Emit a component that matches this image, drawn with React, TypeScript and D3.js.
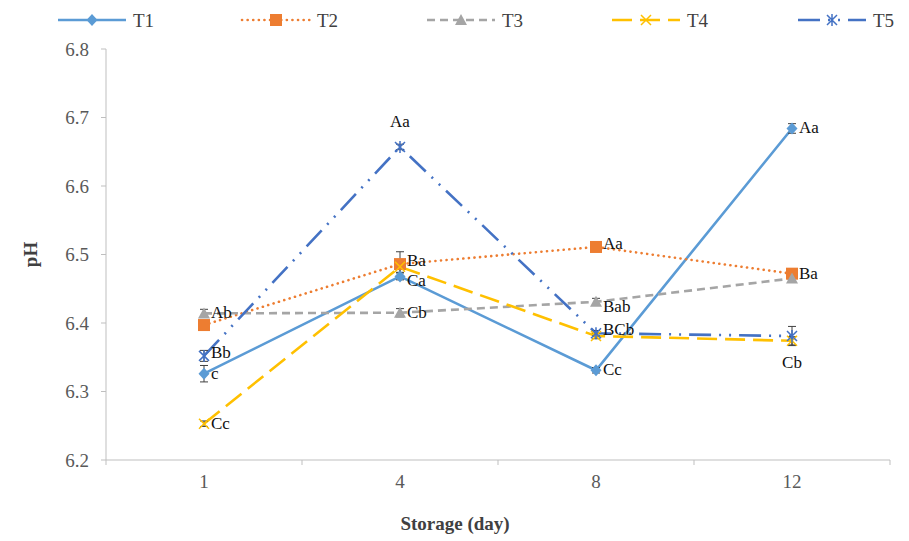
import * as d3 from 'd3';

const days = ['1', '4', '8', '12'];
const seriesNames = ['T1', 'T2', 'T3', 'T4', 'T5'];
const t1 = [6.326, 6.468, 6.331, 6.684];
const t2 = [6.397, 6.486, 6.511, 6.472];
const t3 = [6.414, 6.415, 6.431, 6.465];
const t4 = [6.253, 6.482, 6.381, 6.374];
const t5 = [6.352, 6.657, 6.385, 6.381];
const t1Err = [0.012, 0.005, 0.004, 0.007];
const t2Err = [0.006, 0.018, 0.004, 0.005];
const t3Err = [0.006, 0.006, 0.005, 0.004];
const t4Err = [0.004, 0.008, 0.004, 0.006];
const t5Err = [0.008, 0.004, 0.004, 0.014];
const yTicks = [6.2, 6.3, 6.4, 6.5, 6.6, 6.7, 6.8];

// letters shown next to each point: series index, day index, text, side
const pointLabels = [
  { s: 2, d: 0, text: 'Ab', side: 'right' },
  { s: 4, d: 0, text: 'Bb', side: 'rightHigh' },
  { s: 0, d: 0, text: 'c', side: 'right' },
  { s: 3, d: 0, text: 'Cc', side: 'right' },
  { s: 4, d: 1, text: 'Aa', side: 'above' },
  { s: 1, d: 1, text: 'Ba', side: 'rightHigh' },
  { s: 0, d: 1, text: 'Ca', side: 'rightLow' },
  { s: 2, d: 1, text: 'Cb', side: 'right' },
  { s: 1, d: 2, text: 'Aa', side: 'rightHigh' },
  { s: 2, d: 2, text: 'Bab', side: 'rightLow' },
  { s: 4, d: 2, text: 'BCb', side: 'rightHigh' },
  { s: 0, d: 2, text: 'Cc', side: 'right' },
  { s: 0, d: 3, text: 'Aa', side: 'right' },
  { s: 1, d: 3, text: 'Ba', side: 'right' },
  { s: 3, d: 3, text: 'Cb', side: 'below' },
];

const values = [t1, t2, t3, t4, t5];
const errors = [t1Err, t2Err, t3Err, t4Err, t5Err];
const colors = ['#5B9BD5', '#ED7D31', '#A5A5A5', '#FFC000', '#4472C4'];
const dashes = ['none', '0.1 5.5', '8 5', '20 8', '22 8 2 8 2 8'];
const shapes = ['diamond', 'square', 'triangle', 'x', 'star'];

const W = 909,
  H = 541;
const margin = { top: 49, right: 19, bottom: 81, left: 106 };
const font = "'Liberation Serif', 'DejaVu Serif', serif";

function Marker({ shape, color, cx, cy }: { shape: string; color: string; cx: number; cy: number }) {
  if (shape === 'diamond')
    return <path d={`M${cx},${cy - 6}L${cx + 5.5},${cy}L${cx},${cy + 6}L${cx - 5.5},${cy}Z`} fill={color} />;
  if (shape === 'square') return <rect x={cx - 6} y={cy - 6} width={12} height={12} fill={color} />;
  if (shape === 'triangle')
    return <path d={`M${cx},${cy - 6}L${cx + 6},${cy + 5}L${cx - 6},${cy + 5}Z`} fill={color} />;
  if (shape === 'x')
    return (
      <path
        d={`M${cx - 5},${cy - 5}L${cx + 5},${cy + 5}M${cx - 5},${cy + 5}L${cx + 5},${cy - 5}`}
        stroke={color}
        strokeWidth={1.5}
      />
    );
  return (
    <path
      d={`M${cx - 5},${cy - 5}L${cx + 5},${cy + 5}M${cx - 5},${cy + 5}L${cx + 5},${cy - 5}M${cx},${cy - 6}L${cx},${cy + 6}`}
      stroke={color}
      strokeWidth={1.5}
    />
  );
}

const labelShift: Record<string, number> = { right: -1, rightHigh: -4, rightLow: 4 };

export default function App() {
  const x = d3
    .scaleBand()
    .domain(days)
    .range([margin.left, W - margin.right])
    .padding(0);
  const y = d3
    .scaleLinear()
    .domain([6.2, 6.8])
    .range([H - margin.bottom, margin.top]);
  const cx = (d: string) => (x(d) as number) + x.bandwidth() / 2;
  const line = d3
    .line<number>()
    .x((_, i) => cx(days[i]))
    .y((v) => y(v));
  const axisColor = '#BFBFBF';
  const bottom = H - margin.bottom;
  const legendX = [58, 242, 427, 612, 798];

  return (
    <svg
      width={W}
      height={H}
      style={{ position: 'absolute', left: 0, top: 0, background: '#fff', fontFamily: font }}
    >
      {/* y axis */}
      <line x1={margin.left} x2={margin.left} y1={margin.top} y2={bottom} stroke={axisColor} />
      {yTicks.map((t) => (
        <g key={t}>
          <line x1={margin.left - 5} x2={margin.left} y1={y(t)} y2={y(t)} stroke={axisColor} />
          <text x={margin.left - 17} y={y(t)} dy="0.35em" textAnchor="end" fontSize={19} fill="#595959">
            {t.toFixed(1)}
          </text>
        </g>
      ))}
      {/* x axis */}
      <line x1={margin.left} x2={W - margin.right} y1={bottom} y2={bottom} stroke={axisColor} />
      {days.map((d) => (
        <g key={d}>
          <line
            x1={(x(d) as number) + x.bandwidth()}
            x2={(x(d) as number) + x.bandwidth()}
            y1={bottom}
            y2={bottom + 5}
            stroke={axisColor}
          />
          <text x={cx(d)} y={bottom + 21} dy="0.35em" textAnchor="middle" fontSize={19} fill="#595959">
            {d}
          </text>
        </g>
      ))}
      <line x1={margin.left} x2={margin.left} y1={bottom} y2={bottom + 5} stroke={axisColor} />

      <text
        transform={`translate(30,${(margin.top + bottom) / 2}) rotate(-90)`}
        textAnchor="middle"
        dy="0.35em"
        fontSize={19}
        fontWeight="bold"
        fill="#404040"
      >
        pH
      </text>
      <text x={455} y={523} dy="0.35em" textAnchor="middle" fontSize={19} fontWeight="bold" fill="#404040">
        Storage (day)
      </text>

      {/* series lines */}
      {values.map((vals, s) => (
        <path
          key={s}
          d={line(vals) as string}
          fill="none"
          stroke={colors[s]}
          strokeWidth={2.6}
          strokeDasharray={dashes[s]}
          strokeLinecap={s === 1 ? 'round' : 'butt'}
        />
      ))}
      {/* error bars */}
      {values.map((vals, s) =>
        vals.map((v, i) => {
          const px = cx(days[i]);
          const e = errors[s][i];
          return (
            <g key={`${s}-${i}`} stroke="#404040" strokeWidth={1}>
              <line x1={px} x2={px} y1={y(v + e)} y2={y(v - e)} />
              <line x1={px - 4} x2={px + 4} y1={y(v + e)} y2={y(v + e)} />
              <line x1={px - 4} x2={px + 4} y1={y(v - e)} y2={y(v - e)} />
            </g>
          );
        })
      )}
      {/* markers */}
      {values.map((vals, s) =>
        vals.map((v, i) => <Marker key={`m${s}-${i}`} shape={shapes[s]} color={colors[s]} cx={cx(days[i])} cy={y(v)} />)
      )}
      {/* point letters */}
      {pointLabels.map((l, k) => {
        const px = cx(days[l.d]);
        const py = y(values[l.s][l.d]);
        if (l.side === 'above')
          return (
            <text key={k} x={px} y={py - 26} dy="0.35em" textAnchor="middle" fontSize={17} fill="#111">
              {l.text}
            </text>
          );
        if (l.side === 'below')
          return (
            <text key={k} x={px} y={py + 21} dy="0.35em" textAnchor="middle" fontSize={17} fill="#111">
              {l.text}
            </text>
          );
        return (
          <text key={k} x={px + 7} y={py + labelShift[l.side]} dy="0.35em" fontSize={17} fill="#111">
            {l.text}
          </text>
        );
      })}

      {/* legend */}
      {seriesNames.map((name, s) => (
        <g key={name}>
          <line
            x1={legendX[s]}
            x2={legendX[s] + 68}
            y1={20}
            y2={20}
            stroke={colors[s]}
            strokeWidth={2.6}
            strokeDasharray={dashes[s]}
            strokeLinecap={s === 1 ? 'round' : 'butt'}
          />
          <Marker shape={shapes[s]} color={colors[s]} cx={legendX[s] + 34} cy={20} />
          <text x={legendX[s] + 75} y={20} dy="0.35em" fontSize={19} fill="#404040">
            {name}
          </text>
        </g>
      ))}
    </svg>
  );
}
